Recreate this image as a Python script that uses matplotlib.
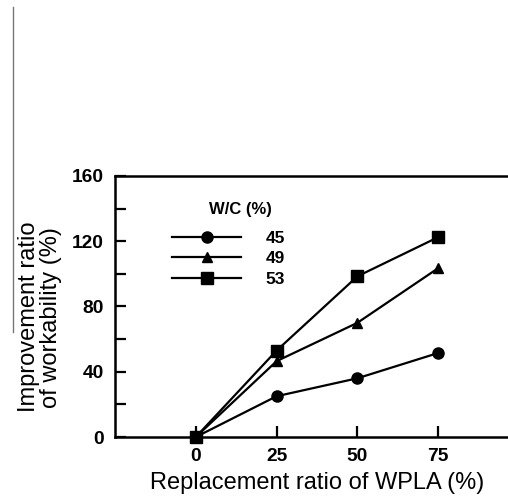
import numpy as np
import matplotlib
matplotlib.use("Agg")
import matplotlib.pyplot as plt
from matplotlib.lines import Line2D

# データ
replace_ratio = [0, 25, 50, 75]
wc_labels = ["45", "49", "53"]
ratio_45 = [0, 25, 36, 51.5]
ratio_49 = [0, 46.5, 70, 103.5]
ratio_53 = [0, 53, 98.5, 122.5]
markers = ["o", "^", "s"]

plt.rcParams["font.family"] = ["Liberation Sans", "DejaVu Sans"]

def main():
    fig = plt.figure(figsize=(5.08, 4.97), dpi=100)
    ax = fig.add_axes([0.2264, 0.1207, 0.7736, 0.5252])

    series = [ratio_45, ratio_49, ratio_53]
    sizes = [8, 7, 8.5]
    for vals, m, lab, ms in zip(series, markers, wc_labels, sizes):
        ax.plot(replace_ratio, vals, color="black", lw=1.6, marker=m,
                markersize=ms, label=lab, clip_on=False, zorder=3)

    ax.set_xlim(-25, 96.6)
    ax.set_ylim(0, 160)
    ax.set_xticks([0, 25, 50, 75])
    ax.set_yticks([0, 40, 80, 120, 160])
    ax.set_yticks([20, 60, 100, 140], minor=True)
    ax.tick_params(axis="both", which="both", direction="in", width=1.6,
                   length=8, labelsize=13.8, pad=8, right=False, top=False)
    for t in ax.get_xticklabels() + ax.get_yticklabels():
        t.set_fontweight("bold")
    for s in ["left", "top", "bottom"]:
        ax.spines[s].set_linewidth(1.8)
    ax.spines["right"].set_visible(False)

    ax.set_xlabel("Replacement ratio of WPLA (%)", fontsize=17)
    ax.xaxis.set_label_coords(0.514, -0.133)
    fig.text(0.079, 0.362, "Improvement ratio\nof workability (%)", fontsize=17,
             rotation=90, ha="center", va="center", linespacing=1.0)

    leg = ax.legend(loc="upper left", bbox_to_anchor=(0.145, 0.79), frameon=False,
                    handlelength=4.0, handletextpad=1.4, labelspacing=0.3,
                    borderpad=0, borderaxespad=0, numpoints=1,
                    prop={"weight": "bold", "size": 12.5})
    ax.text(0.24, 0.87, "W/C (%)", transform=ax.transAxes, fontsize=12,
            fontweight="bold", ha="left", va="center")

    # 左端の縦線 (元画像のスキャン跡)
    fig.add_artist(Line2D([13 / 508, 13 / 508], [1 - 7 / 497, 1 - 332 / 497],
                          color="#777777", lw=1.0))

    fig.savefig("out.png", dpi=100)

if __name__ == '__main__':
    main()
